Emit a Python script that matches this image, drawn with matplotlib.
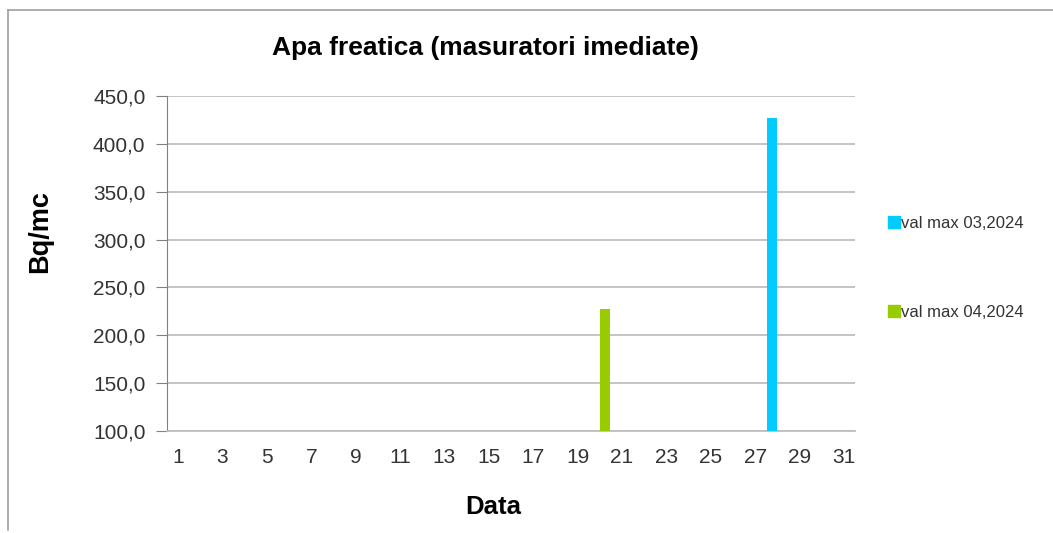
import numpy as np
import matplotlib.pyplot as plt
from matplotlib.lines import Line2D

plt.rcParams['font.family'] = ['Liberation Sans', 'DejaVu Sans']

days = list(range(1, 32))
# only one measured day per month rises above the axis floor
val_max_03_2024 = {28: 427.0}
val_max_04_2024 = {20: 227.0}
series_names = ['val max 03,2024', 'val max 04,2024']
series_colors = ['#00CCFF', '#99CC00']

fig = plt.figure(figsize=(10.53, 5.33), dpi=100)
ax = fig.add_axes([0.1586, 0.1914, 0.6534, 0.6285])

x = np.arange(len(days))
w = 0.45
for vals, off, col in [(val_max_03_2024, -w / 2, series_colors[0]),
                       (val_max_04_2024, w / 2, series_colors[1])]:
    heights = [vals.get(d, np.nan) for d in days]
    ax.bar(x + off, np.array(heights) - 100, bottom=100, width=w, color=col, zorder=3)

ax.set_xlim(-0.5, len(days) - 0.5)
ax.set_ylim(100, 450)
ax.set_yticks(np.arange(100, 451, 50))
ax.set_yticklabels([f'{v:.1f}'.replace('.', ',') for v in np.arange(100, 451, 50)])
ax.set_xticks(x[::2])
ax.set_xticklabels([str(d) for d in days[::2]])

ax.grid(axis='y', color='#bfbfbf', linewidth=1.3, zorder=0)
ax.set_axisbelow(True)
for s in ['top', 'right']:
    ax.spines[s].set_visible(False)
ax.spines['left'].set_color('#808080')
ax.spines['bottom'].set_color('#bfbfbf')
ax.spines['bottom'].set_linewidth(1.3)
ax.tick_params(axis='y', length=8, color='#808080', labelsize=15, labelcolor='#333333', pad=7.5)
ax.tick_params(axis='x', length=0, labelsize=15, labelcolor='#333333', pad=12)

fig.text(0.461, 0.91, 'Apa freatica (masuratori imediate)', ha='center', va='center',
         fontsize=19, fontweight='bold')
fig.text(0.0385, 0.566, 'Bq/mc', ha='center', va='center', rotation=90,
         fontsize=19.5, fontweight='bold')
fig.text(0.468, 0.049, 'Data', ha='center', va='center', fontsize=18.5, fontweight='bold')

handles = [Line2D([], [], linestyle='none', marker='s', markersize=8,
                  markerfacecolor=c, markeredgecolor=c) for c in series_colors]
leg = fig.legend(handles, series_names, loc='center left', bbox_to_anchor=(0.83, 0.497),
                 frameon=False, fontsize=12, labelspacing=4.45, handlelength=0.6,
                 handletextpad=0.15, labelcolor='#333333')

# outer chart frame (left and top edges)
fig.add_artist(Line2D([0.0076, 0.0076], [0.005, 0.981], color='#a0a0a0', linewidth=1.2))
fig.add_artist(Line2D([0.0076, 1.0], [0.981, 0.981], color='#a0a0a0', linewidth=1.2))

fig.savefig('out.png', dpi=100)
